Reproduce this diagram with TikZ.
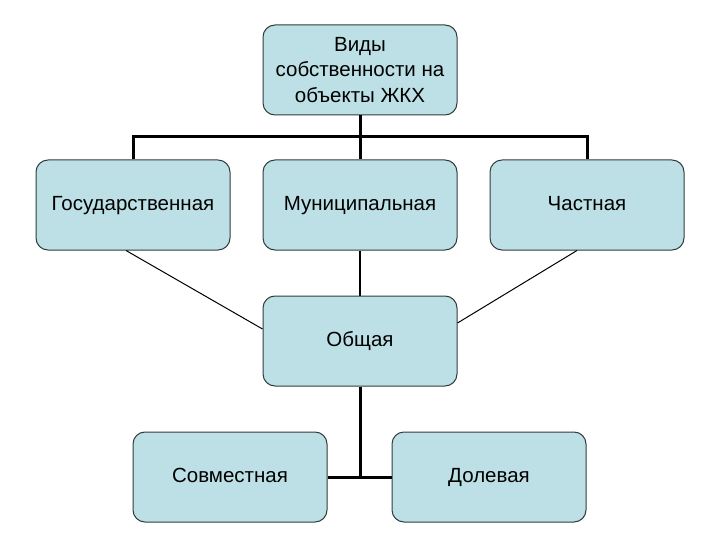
\documentclass[tikz,border=0pt]{standalone}
\usepackage{fontspec}
\setmainfont{Liberation Sans}
\usetikzlibrary{positioning}
\definecolor{boxfill}{RGB}{188,224,229}
\definecolor{boxline}{RGB}{50,60,60}
\tikzset{
  every node/.style={
    align=center,
    font=\fontsize{20.5}{25.5}\selectfont,
  },
  box/.style={
    draw=boxline,
    fill=boxfill,
    line width=1pt,
    rounded corners=12pt,
    minimum width=194pt,
    minimum height=90pt,
    inner sep=0pt,
  },
  onebox/.style={box, text height=15pt, text depth=4pt},
  bus/.style={line width=3pt},
  thinlink/.style={line width=1pt},
}

\begin{document}
\begin{tikzpicture}[x=1pt,y=-1pt]
    \useasboundingbox (0,0) rectangle (720,540);
    \node[box] (kinds) at (360,70) {Виды\\собственности на\\объекты ЖКХ};
    \node[onebox] (state) at (133,205) {Государственная};
    \node[onebox] (munic) at (360,205) {Муниципальная};
    \node[onebox] (priv) at (587,205) {Частная};
    \node[onebox] (common) at (360,341) {Общая};
    \node[onebox] (joint) at (230,477) {Совместная};
    \node[onebox] (share) at (489,477) {Долевая};
    % buses
    \coordinate (fork) at (360,137);
    \draw[bus] (kinds.south) -- (munic.north);
    \draw[bus] (state.north) |- (fork) -| (priv.north);
    \draw[line width=2.5pt] (munic.south) -- (common.north);
    \draw[bus] (common.south) -- (common.south |- joint.east);
    \draw[bus] (joint.east) -- (share.west);
    % thin links
    \draw[thinlink] ([xshift=-7pt]state.south) -- ([yshift=12pt]common.west);
    \draw[thinlink] ([xshift=-10pt]priv.south) -- ([yshift=18pt]common.east);
\end{tikzpicture}
\end{document}
